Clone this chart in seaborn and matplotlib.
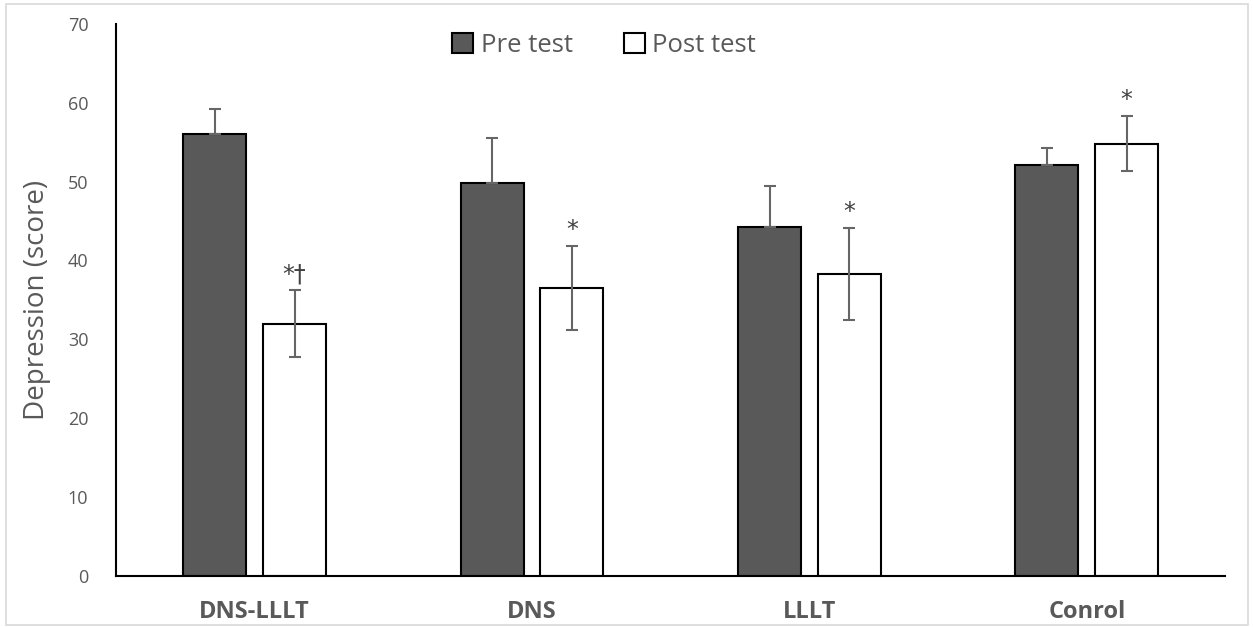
import pandas as pd
import seaborn as sns
import matplotlib.pyplot as plt
from matplotlib.patches import Rectangle

# Values
groups = ["DNS-LLLT", "DNS", "LLLT", "Conrol"]
pre_mean = [56.0, 49.8, 44.2, 52.1]
pre_sd = [3.2, 5.7, 5.2, 2.1]
post_mean = [32.0, 36.5, 38.3, 54.8]
post_sd = [4.2, 5.35, 5.8, 3.5]
post_marks = ["*\u2020", "*", "*", "*"]

sns.set_theme(style="white")
plt.rcParams["font.family"] = ["Open Sans", "DejaVu Sans"]

data = pd.DataFrame({
    "group": groups * 2,
    "test": ["Pre test"] * 4 + ["Post test"] * 4,
    "score": pre_mean + post_mean,
})

fig = plt.figure(figsize=(12.53, 6.27), dpi=100)
ax = fig.add_axes([0.0926, 0.0813, 0.9854 - 0.0926 - 0.0074, 0.962 - 0.0813])

sns.barplot(data=data, x="group", y="score", hue="test", order=groups,
            hue_order=["Pre test", "Post test"],
            palette={"Pre test": "#595959", "Post test": "#ffffff"},
            width=0.574, gap=0.208, edgecolor="black", linewidth=1.5,
            errorbar=None, ax=ax)

# error bars: pre only upward, post both ways
grey = "#666666"
pre_bars = ax.patches[:4]
post_bars = ax.patches[4:8]
for i in range(4):
    pb = pre_bars[i]
    x_pre = pb.get_x() + pb.get_width() / 2
    ax.errorbar(x_pre, pre_mean[i], yerr=[[0], [pre_sd[i]]], fmt="none",
                ecolor=grey, elinewidth=1.5, capsize=4.5, capthick=1.5, zorder=3)
    qb = post_bars[i]
    x_post = qb.get_x() + qb.get_width() / 2
    ax.errorbar(x_post, post_mean[i], yerr=post_sd[i], fmt="none",
                ecolor=grey, elinewidth=1.5, capsize=4.5, capthick=1.5, zorder=3)
    ax.text(x_post, post_mean[i] + post_sd[i] + 0.5, post_marks[i],
            ha="center", va="bottom", fontsize=17, color="#404040",
            family=["DejaVu Sans"])

ax.set_xlim(-0.5, 3.5)
ax.set_ylim(0, 70)
ax.set_yticks(range(0, 71, 10))
ax.tick_params(axis="y", labelsize=13, labelcolor="#595959", length=0, pad=20)
ax.tick_params(axis="x", length=0, pad=17)
for lab in ax.get_xticklabels():
    lab.set_fontweight("bold")
    lab.set_fontsize(17)
    lab.set_color("#595959")
ax.set_xlabel("")
ax.set_ylabel("Depression (score)", fontsize=20, color="#595959", labelpad=12)

for side in ["top", "right"]:
    ax.spines[side].set_visible(False)
for side in ["left", "bottom"]:
    ax.spines[side].set_color("black")
    ax.spines[side].set_linewidth(1.5)

leg = ax.legend(loc="upper center", bbox_to_anchor=(0.44, 1.025), ncol=2,
                frameon=False, fontsize=18.5, handlelength=0.8, handleheight=0.8,
                columnspacing=2.0, handletextpad=0.3)
for t in leg.get_texts():
    t.set_color("#595959")

# light outer frame like the source image
fig.patches.append(Rectangle((0.005, 0.003), 0.991, 0.99, transform=fig.transFigure,
                             fill=False, edgecolor="#d9d9d9", linewidth=1.2))

fig.savefig("out.png", dpi=100)
